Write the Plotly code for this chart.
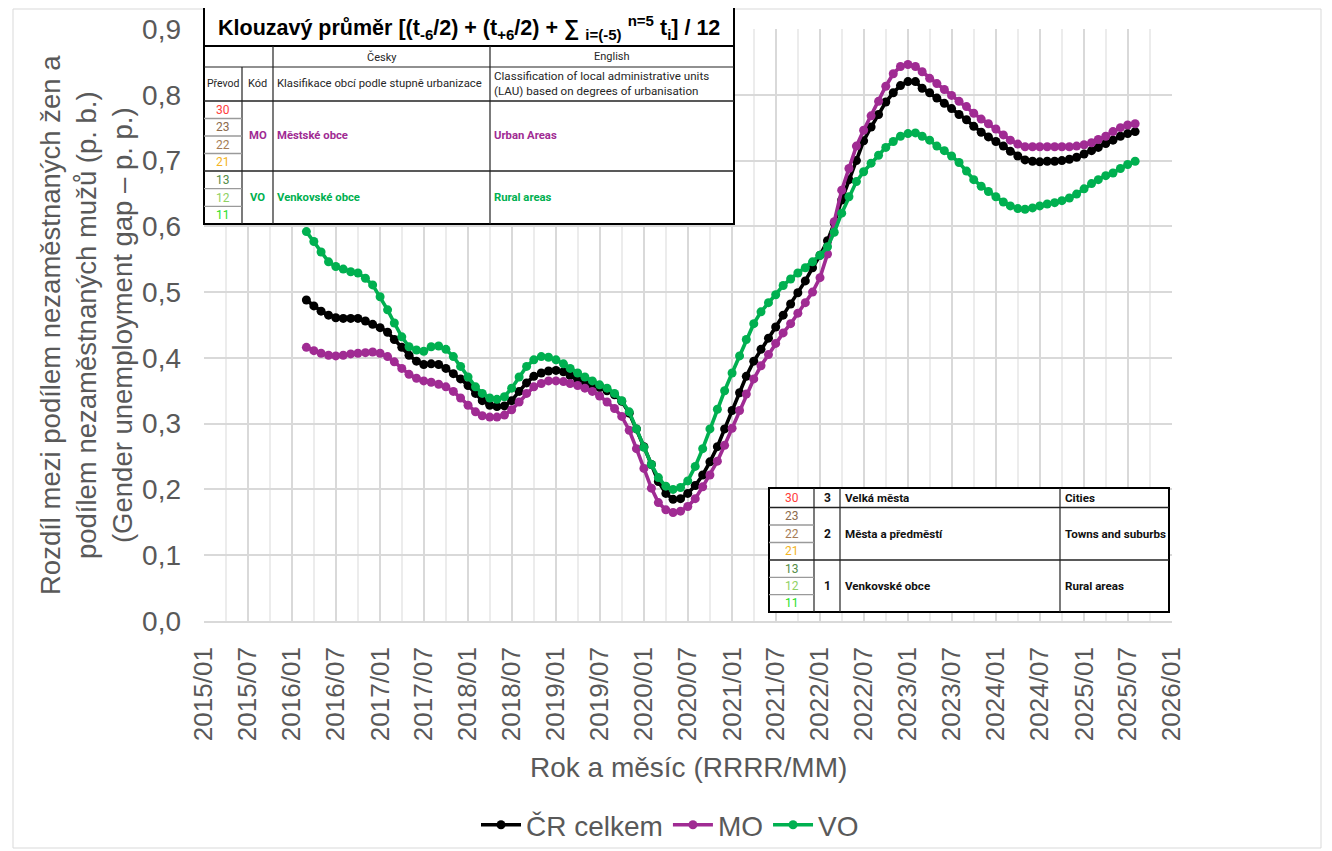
import pandas as pd
import plotly.graph_objects as go

# ---------------- data ----------------
months = pd.date_range("2016-03-01", "2025-08-01", freq="MS")

cr_celkem = [
    0.488, 0.479, 0.471, 0.465, 0.461, 0.460, 0.460, 0.460, 0.456, 0.451,
    0.446, 0.439, 0.428, 0.416, 0.404, 0.395, 0.390, 0.391, 0.390, 0.384,
    0.376, 0.368, 0.358, 0.346, 0.335, 0.328, 0.326, 0.327, 0.335, 0.349,
    0.362, 0.372, 0.377, 0.380, 0.381, 0.379, 0.373, 0.367, 0.363, 0.359,
    0.355, 0.350, 0.344, 0.334, 0.316, 0.292, 0.265, 0.238, 0.212, 0.194,
    0.185, 0.186, 0.194, 0.206, 0.222, 0.242, 0.265, 0.292, 0.320, 0.347,
    0.372, 0.395, 0.413, 0.430, 0.447, 0.465, 0.482, 0.499, 0.517, 0.537,
    0.556, 0.578, 0.605, 0.640, 0.671, 0.700, 0.730, 0.751, 0.770, 0.789,
    0.803, 0.814, 0.820, 0.820, 0.810, 0.803, 0.795, 0.787, 0.779, 0.770,
    0.762, 0.752, 0.743, 0.736, 0.729, 0.722, 0.714, 0.707, 0.701, 0.699,
    0.698, 0.699, 0.699, 0.700, 0.702, 0.705, 0.710, 0.715, 0.720, 0.726,
    0.731, 0.737, 0.741, 0.744,
]

mo = [
    0.416, 0.411, 0.407, 0.404, 0.403, 0.404, 0.406, 0.407, 0.408, 0.409,
    0.407, 0.402, 0.394, 0.384, 0.375, 0.369, 0.365, 0.363, 0.360, 0.356,
    0.349, 0.339, 0.328, 0.318, 0.312, 0.310, 0.310, 0.313, 0.321, 0.333,
    0.346, 0.356, 0.361, 0.365, 0.365, 0.364, 0.361, 0.358, 0.354, 0.349,
    0.342, 0.333, 0.323, 0.311, 0.290, 0.262, 0.232, 0.202, 0.180, 0.169,
    0.165, 0.167, 0.174, 0.186, 0.204, 0.222, 0.243, 0.267, 0.293, 0.320,
    0.345, 0.368, 0.388, 0.405, 0.422, 0.438, 0.452, 0.468, 0.484, 0.500,
    0.522, 0.558, 0.607, 0.655, 0.688, 0.722, 0.746, 0.768, 0.790, 0.813,
    0.832, 0.843, 0.846, 0.843, 0.835, 0.825, 0.817, 0.808, 0.799, 0.790,
    0.782, 0.772, 0.763, 0.756, 0.748, 0.739, 0.731, 0.725, 0.721, 0.721,
    0.721, 0.721, 0.721, 0.721, 0.721, 0.722, 0.724, 0.727, 0.732, 0.737,
    0.744, 0.750, 0.754, 0.756,
]

vo = [
    0.592, 0.577, 0.561, 0.546, 0.539, 0.535, 0.531, 0.529, 0.521, 0.511,
    0.493, 0.473, 0.453, 0.432, 0.417, 0.412, 0.410, 0.417, 0.418, 0.413,
    0.402, 0.387, 0.371, 0.356, 0.346, 0.339, 0.337, 0.341, 0.354, 0.371,
    0.387, 0.397, 0.402, 0.401, 0.397, 0.391, 0.384, 0.377, 0.371, 0.365,
    0.359, 0.354, 0.346, 0.335, 0.318, 0.292, 0.264, 0.238, 0.218, 0.205,
    0.200, 0.203, 0.213, 0.235, 0.262, 0.292, 0.322, 0.350, 0.377, 0.403,
    0.428, 0.452, 0.470, 0.484, 0.496, 0.510, 0.520, 0.529, 0.537, 0.546,
    0.556, 0.569, 0.591, 0.620, 0.645, 0.668, 0.683, 0.696, 0.708, 0.720,
    0.729, 0.737, 0.741, 0.742, 0.737, 0.731, 0.722, 0.715, 0.707, 0.697,
    0.684, 0.671, 0.661, 0.653, 0.645, 0.637, 0.631, 0.627, 0.626, 0.628,
    0.631, 0.634, 0.636, 0.639, 0.643, 0.649, 0.657, 0.665, 0.671, 0.677,
    0.681, 0.688, 0.694, 0.699,
]

series_names = ["ČR celkem", "MO", "VO"]
series_colors = ["#000000", "#A02B93", "#00B050"]

# table texts
title_text = ("<b>Klouzavý průměr [(t<sub>-6</sub>/2) + (t<sub>+6</sub>/2) + ∑ "
              "<sub>i=(-5)</sub> <sup>n=5</sup> t<sub>i</sub>] / 12</b>")
codes_mo = ["30", "23", "22", "21"]
codes_vo = ["13", "12", "11"]
code_colors = {"30": "#FF3B3B", "23": "#8C6A4C", "22": "#A57B55", "21": "#F4B423",
               "13": "#538B45", "12": "#8FD163", "11": "#1FE01F"}

# ---------------- figure ----------------
OFF = 8                      # page body margin of the html page
W, H = 1332 - OFF, 851 - OFF
L, R, T, B = 204, 1172, 29, 621  # plot area in screenshot pixels

fig = go.Figure()
for name, vals, col in zip(series_names, [cr_celkem, mo, vo], series_colors):
    fig.add_trace(go.Scatter(
        x=months, y=vals, name=name, mode="lines+markers",
        line=dict(color=col, width=3.6),
        marker=dict(color=col, size=9, symbol="circle"),
    ))

GRAY = "#595959"
FONT = "Liberation Sans, Arial, sans-serif"
TFONT = "Roboto, Noto Sans, sans-serif"


def px(xp):
    return (xp - L) / (R - L)


def py(yp):
    return (B - yp) / (B - T)


fig.update_layout(
    width=W, height=H,
    margin=dict(l=L - OFF, r=W - (R - OFF), t=T - OFF, b=H - (B - OFF), autoexpand=False),
    paper_bgcolor="white", plot_bgcolor="white",
    separators=", ",
    font=dict(family=FONT, color=GRAY, size=26),
    showlegend=True,
    legend=dict(orientation="h", x=px(670), xanchor="center",
                y=py(825), yanchor="middle",
                font=dict(size=28, color=GRAY, family=FONT),
                itemwidth=40, bgcolor="rgba(0,0,0,0)"),
)

fig.update_xaxes(
    type="date", range=["2015-01-01", "2026-01-01"],
    tick0="2015-01-01", dtick="M6", tickformat="%Y/%m", tickangle=-90,
    tickfont=dict(size=26, color=GRAY, family=FONT),
    showgrid=True, gridcolor="#d9d9d9", gridwidth=1.5,
    minor=dict(dtick="M3", showgrid=True, gridcolor="#ececec", gridwidth=1.5),
    showline=True, linecolor="#d9d9d9", linewidth=1.5, mirror=False,
    ticks="", ticklabelstandoff=14, zeroline=False,
)
fig.update_yaxes(
    range=[0, 0.9], dtick=0.1, tick0=0, tickformat=".1f",
    tickfont=dict(size=28, color=GRAY, family=FONT),
    showgrid=True, gridcolor="#d9d9d9", gridwidth=1.5,
    zeroline=False, showline=False, ticks="", ticklabelstandoff=22,
)

shapes = []
annos = []


def rect(x0, y0, x1, y1, width=2, color="black", fill=None):
    shapes.append(dict(type="rect", xref="paper", yref="paper",
                       x0=px(x0), x1=px(x1), y0=py(y0), y1=py(y1),
                       line=dict(color=color, width=width),
                       fillcolor=fill, layer="above"))


def hline(x0, x1, y, width=1.2, color="#222222"):
    shapes.append(dict(type="line", xref="paper", yref="paper",
                       x0=px(x0), x1=px(x1), y0=py(y), y1=py(y),
                       line=dict(color=color, width=width), layer="above"))


def vline(x, y0, y1, width=1.2, color="#222222"):
    shapes.append(dict(type="line", xref="paper", yref="paper",
                       x0=px(x), x1=px(x), y0=py(y0), y1=py(y1),
                       line=dict(color=color, width=width), layer="above"))


def text(x, y, s, size=10, color="#262626", anchor="center", family=TFONT, bold=False):
    if bold:
        s = "<b>" + s + "</b>"
    annos.append(dict(xref="paper", yref="paper", x=px(x), y=py(y), text=s,
                      showarrow=False, xanchor=anchor, yanchor="middle",
                      font=dict(size=size, color=color, family=family),
                      align="left" if anchor == "left" else "center"))


# outer chart border
rect(13, 9, 1321, 848, width=1, color="#d9d9d9")

# ---- top-left table ----
tx0, tx1 = 204, 734
c1, c2, c3 = 242, 273, 490
r0, r1, r2, r3, r4, r5 = 7, 46, 67, 101, 171, 224
rect(tx0, r0, tx1, r5, width=2, fill="white")
hline(tx0, tx1, r1, width=2, color="black")
hline(tx0, tx1, r2)
hline(tx0, tx1, r3, width=1.6)
hline(tx0, tx1, r4, width=1.6)
vline(c1, r2, r5)
vline(c2, r1, r5)
vline(c3, r1, r5)
h_mo = (r4 - r3) / 4
for k in range(1, 4):
    hline(tx0, c1, r3 + k * h_mo, width=1.4, color="#9a9a9a")
h_vo = (r5 - r4) / 3
for k in range(1, 3):
    hline(tx0, c1, r4 + k * h_vo, width=1.4, color="#9a9a9a")

text((tx0 + tx1) / 2, (r0 + r1) / 2 + 1, title_text, size=21.5, color="black",
     family=FONT)
text((c2 + c3) / 2, (r1 + r2) / 2, "Česky", size=11)
text((c3 + tx1) / 2, (r1 + r2) / 2, "English", size=11)
text((tx0 + c1) / 2, (r2 + r3) / 2, "Převod", size=10.5)
text((c1 + c2) / 2, (r2 + r3) / 2, "Kód", size=11)
text(c2 + 2, (r2 + r3) / 2, "Klasifikace obcí podle stupně urbanizace", size=11.3,
     anchor="left")
text(c3 + 2, (r2 + r3) / 2,
     "Classification of local administrative units<br>(LAU) based on degrees of urbanisation",
     size=11.6, anchor="left")
for k, c in enumerate(codes_mo):
    text((tx0 + c1) / 2, r3 + (k + 0.5) * h_mo, c, size=12, color=code_colors[c])
for k, c in enumerate(codes_vo):
    text((tx0 + c1) / 2, r4 + (k + 0.5) * h_vo, c, size=12, color=code_colors[c])
ym, yv = (r3 + r4) / 2, (r4 + r5) / 2
text((c1 + c2) / 2, ym, "MO", size=11.3, color=series_colors[1], bold=True)
text(c2 + 2, ym, "Městské obce", size=11.3, color=series_colors[1], bold=True, anchor="left")
text(c3 + 2, ym, "Urban Areas", size=11.3, color=series_colors[1], bold=True, anchor="left")
text((c1 + c2) / 2, yv, "VO", size=11.3, color=series_colors[2], bold=True)
text(c2 + 2, yv, "Venkovské obce", size=11.3, color=series_colors[2], bold=True, anchor="left")
text(c3 + 2, yv, "Rural areas", size=11.3, color=series_colors[2], bold=True, anchor="left")

# ---- bottom-right table ----
bx0, bx1 = 769, 1169
d1, d2, d3 = 814, 840, 1060
s0, s1, s2, s3 = 488, 507.5, 560, 612
rect(bx0, s0, bx1, s3, width=2, fill="white")
hline(bx0, bx1, s1, width=1.6)
hline(bx0, bx1, s2, width=1.6)
vline(d1, s0, s3)
vline(d2, s0, s3)
vline(d3, s0, s3)
g2 = (s2 - s1) / 3
g3 = (s3 - s2) / 3
for k in range(1, 3):
    hline(bx0, d1, s1 + k * g2, width=1.4, color="#9a9a9a")
    hline(bx0, d1, s2 + k * g3, width=1.4, color="#9a9a9a")

BT = 11.6
text((bx0 + d1) / 2, (s0 + s1) / 2, "30", size=12, color=code_colors["30"])
text((d1 + d2) / 2, (s0 + s1) / 2, "3", size=12, color="#111111", bold=True)
text(d2 + 3, (s0 + s1) / 2, "Velká města", size=BT, color="#111111", bold=True, anchor="left")
text(d3 + 3, (s0 + s1) / 2, "Cities", size=BT, color="#111111", bold=True, anchor="left")
for k, c in enumerate(["23", "22", "21"]):
    text((bx0 + d1) / 2, s1 + (k + 0.5) * g2, c, size=12, color=code_colors[c])
text((d1 + d2) / 2, (s1 + s2) / 2, "2", size=12, color="#111111", bold=True)
text(d2 + 3, (s1 + s2) / 2, "Města a předměstí", size=BT, color="#111111", bold=True, anchor="left")
text(d3 + 3, (s1 + s2) / 2, "Towns and suburbs", size=BT, color="#111111", bold=True, anchor="left")
for k, c in enumerate(codes_vo):
    text((bx0 + d1) / 2, s2 + (k + 0.5) * g3, c, size=12, color=code_colors[c])
text((d1 + d2) / 2, (s2 + s3) / 2, "1", size=12, color="#111111", bold=True)
text(d2 + 3, (s2 + s3) / 2, "Venkovské obce", size=BT, color="#111111", bold=True, anchor="left")
text(d3 + 3, (s2 + s3) / 2, "Rural areas", size=BT, color="#111111", bold=True, anchor="left")

# ---- axis titles ----
annos.append(dict(xref="paper", yref="paper", x=px(86), y=py(325),
                  text=("Rozdíl mezi podílem nezaměstnaných žen a<br>"
                        "podílem nezaměstnaných mužů (p. b.)<br>"
                        "(Gender unemployment gap – p. p.)"),
                  textangle=-90, showarrow=False, xanchor="center", yanchor="middle",
                  font=dict(size=27.5, color=GRAY, family=FONT)))
annos.append(dict(xref="paper", yref="paper", x=px(688), y=py(767),
                  text="Rok a měsíc (RRRR/MM)", showarrow=False,
                  xanchor="center", yanchor="middle",
                  font=dict(size=28, color=GRAY, family=FONT)))

fig.update_layout(shapes=shapes, annotations=annos)
fig.write_html("out.html")
